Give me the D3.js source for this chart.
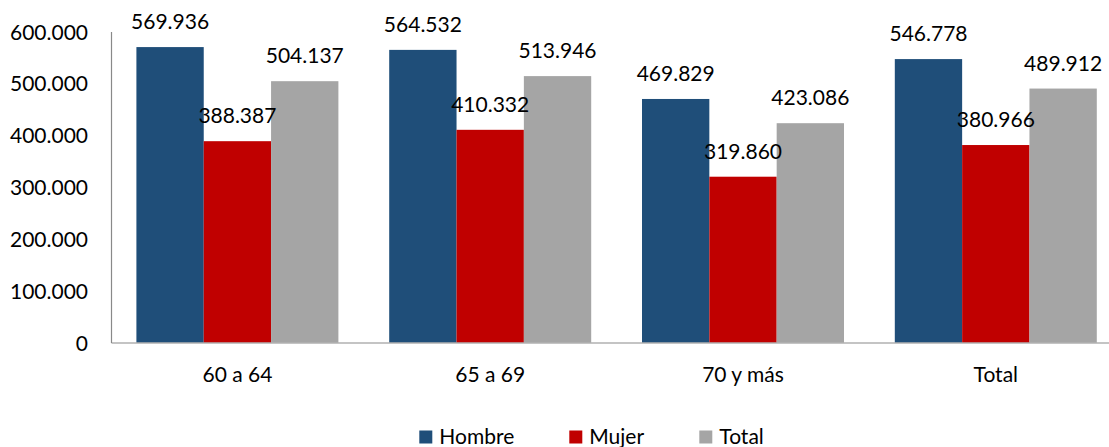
<!DOCTYPE html>
<html><head><meta charset="utf-8">
<script src="https://cdn.jsdelivr.net/npm/d3@7"></script>
<style>body{margin:0;background:#fff;} text{font-family:"Lato","Open Sans",sans-serif;fill:#000;}</style>
</head><body>
<svg id="c" width="1109" height="447"></svg>
<script>
const categories = ["60 a 64", "65 a 69", "70 y más", "Total"];
const seriesNames = ["Hombre", "Mujer", "Total"];
const hombre = [569936, 564532, 469829, 546778];
const mujer = [388387, 410332, 319860, 380966];
const total = [504137, 513946, 423086, 489912];
const yTicks = [0, 100000, 200000, 300000, 400000, 500000, 600000];
const colors = ["#1F4E79", "#C00000", "#A5A5A5"];

const series = [hombre, mujer, total];
const loc = d3.formatLocale({thousands: ".", decimal: ",", grouping: [3], currency: ["", ""]});
const fmt = loc.format(",d");

const svg = d3.select("#c");
const FS = 21;
const x0 = d3.scaleBand().domain(categories).range([111, 1122.2]).paddingInner(0.201).paddingOuter(0.1005);
const x1 = d3.scaleBand().domain(seriesNames).range([0, x0.bandwidth()]);
const y = d3.scaleLinear().domain([0, 600000]).range([342.5, 31.5]);

// bars
categories.forEach((c, i) => {
  const g = svg.append("g").attr("transform", `translate(${x0(c)},0)`);
  seriesNames.forEach((s, j) => {
    const v = series[j][i];
    g.append("rect").attr("x", x1(s)).attr("y", y(v)).attr("width", x1.bandwidth()).attr("height", y(0) - y(v))
      .attr("fill", colors[j]);
  });
  seriesNames.forEach((s, j) => {
    const v = series[j][i];
    g.append("text").attr("x", x1(s) + x1.bandwidth() / 2).attr("y", y(v) - 18)
      .attr("text-anchor", "middle").style("font-size", FS + "px").text(fmt(v));
  });
});

// axes
const yAxis = d3.axisLeft(y).tickValues(yTicks).tickSize(0).tickPadding(23).tickFormat(fmt);
const ga = svg.append("g").attr("transform", "translate(111,0)").call(yAxis);
ga.select(".domain").attr("stroke", "#898989").attr("stroke-width", 1.2);
ga.selectAll("text").style("font-size", FS + "px").attr("dy", "0.36em");

const xAxis = d3.axisBottom(x0).tickSize(0).tickPadding(25);
const gx = svg.append("g").attr("transform", "translate(0,342.5)").call(xAxis);
gx.select(".domain").attr("stroke", "#898989").attr("stroke-width", 1.2);
gx.selectAll("text").style("font-size", FS + "px").attr("dy", "0.71em");

// legend
const legX = [419.3, 569.3, 699.3];
seriesNames.forEach((s, j) => {
  svg.append("rect").attr("x", legX[j]).attr("y", 430.5).attr("width", 13).attr("height", 13).attr("fill", colors[j]);
  svg.append("text").attr("x", legX[j] + 20).attr("y", 443.5).style("font-size", FS + "px").text(s);
});
</script>
</body></html>
